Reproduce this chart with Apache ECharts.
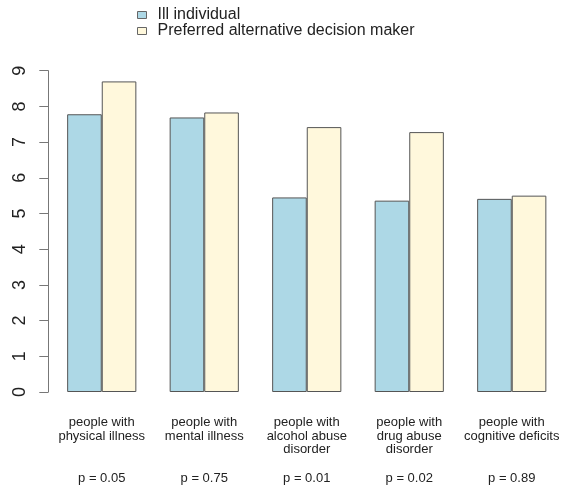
<!DOCTYPE html>
<html>
<head>
<meta charset="utf-8">
<script src="https://cdn.jsdelivr.net/npm/echarts@6/dist/echarts.min.js"></script>
<style>
  html, body { margin: 0; padding: 0; background: #fff; }
  #chart { width: 563px; height: 489px; }
</style>
</head>
<body>
<div id="chart"></div>
<script>
// groups along the x axis
const groupLabels = [
  "people with\nphysical illness",
  "people with\nmental illness",
  "people with\nalcohol abuse\ndisorder",
  "people with\ndrug abuse\ndisorder",
  "people with\ncognitive deficits"
];
const pLabels = ["p = 0.05", "p = 0.75", "p = 0.01", "p = 0.02", "p = 0.89"];

// series values
const illIndividual = [7.78, 7.69, 5.45, 5.36, 5.41];
const preferredDecisionMaker = [8.70, 7.83, 7.42, 7.28, 5.50];

const seriesNames = ["Ill individual", "Preferred alternative decision maker"];
const yTicks = [0, 9, 1]; // min, max, step

const font = "Liberation Sans, Arial, Helvetica, sans-serif";

const chart = echarts.init(document.getElementById("chart"), null, { renderer: "canvas" });

const barStyle = (color) => ({
  color: color,
  borderColor: "#555",
  borderWidth: 1
});

const option = {
  animation: false,
  backgroundColor: "#fff",
  legend: {
    orient: "vertical",
    left: 137,
    top: 7,
    padding: 0,
    itemGap: 0,
    itemWidth: 9,
    itemHeight: 7,
    icon: "rect",
    data: seriesNames,
    itemStyle: { borderColor: "#666", borderWidth: 1 },
    textStyle: { fontFamily: font, fontSize: 16, lineHeight: 16, color: "#222", padding: [0, 0, 0, 6] }
  },
  grid: { left: 50.5, right: -2.1, top: 70.7, bottom: 97, containLabel: false },
  xAxis: [
    {
      type: "category",
      data: groupLabels,
      axisLine: { show: false },
      axisTick: { show: false },
      axisLabel: {
        interval: 0,
        margin: 24,
        fontFamily: font,
        fontSize: 13,
        lineHeight: 13.5,
        color: "#222"
      }
    },
    {
      type: "category",
      position: "bottom",
      data: pLabels,
      axisLine: { show: false },
      axisTick: { show: false },
      axisLabel: {
        interval: 0,
        margin: 79,
        fontFamily: font,
        fontSize: 13,
        lineHeight: 14,
        color: "#222"
      }
    }
  ],
  yAxis: {
    type: "value",
    min: yTicks[0],
    max: yTicks[1],
    interval: yTicks[2],
    offset: 2.2,
    splitLine: { show: false },
    axisLine: { show: true, lineStyle: { color: "#777", width: 1 } },
    axisTick: { show: true, length: 9, lineStyle: { color: "#777", width: 1 } },
    axisLabel: {
      rotate: 90,
      margin: 19,
      fontFamily: font,
      fontSize: 18,
      color: "#222"
    }
  },
  series: [
    {
      name: seriesNames[0],
      type: "bar",
      xAxisIndex: 0,
      data: illIndividual,
      barWidth: 34.6,
      barGap: "0%",
      itemStyle: barStyle("#ADD8E6")
    },
    {
      name: seriesNames[1],
      type: "bar",
      xAxisIndex: 0,
      data: preferredDecisionMaker,
      barWidth: 34.6,
      barGap: "0%",
      itemStyle: barStyle("#FFF8DC")
    }
  ]
};

chart.setOption(option);
</script>
</body>
</html>
